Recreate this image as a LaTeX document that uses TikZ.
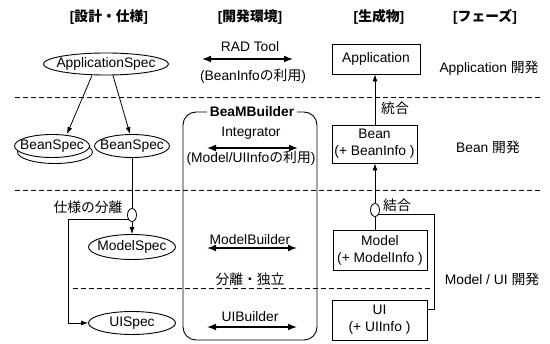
\documentclass[tikz,border=0pt]{standalone}
\usepackage{fontspec}
\setmainfont{Liberation Sans}
\newfontfamily\jpfont{Noto Sans CJK JP}
\usetikzlibrary{shapes.geometric,arrows.meta}
\newcommand\jt[1]{{\jpfont #1}}
\begin{document}
\begin{tikzpicture}[x=1pt,y=-1pt,font=\fontsize{13.8}{17}\selectfont,
  ell/.style={ellipse,draw,line width=0.9pt,fill=white,inner sep=0pt},
  jct/.style={ellipse,draw,line width=0.8pt,fill=white,minimum width=9pt,minimum height=13pt,inner sep=0pt},
  box/.style={rectangle,draw,line width=0.9pt,align=center,inner sep=0pt},
  lbl/.style={inner sep=0pt,align=center},
  hdr/.style={lbl,font=\fontsize{13.8}{17}\selectfont\bfseries},
  conn/.style={line width=0.8pt},
  arr/.style={conn,-{Latex[length=7pt,width=5pt]}},
  darr/.style={line width=1.6pt,{Latex[length=9pt,width=7pt]}-{Latex[length=9pt,width=7pt]}},
  dashline/.style={line width=0.8pt,dash pattern=on 5pt off 3pt}]
\useasboundingbox (0,0) rectangle (550,344);

% dashed phase separators
\coordinate (d1a) at (15,97);  \coordinate (d1b) at (540,97);
\coordinate (d2a) at (15,190); \coordinate (d2b) at (540,190);
\coordinate (d3a) at (73,288); \coordinate (d3b) at (430,288);
\draw[dashline] (d1a) -- (d1b);
\draw[dashline] (d2a) -- (d2b);
\draw[dashline] (d3a) -- (d3b);

% headers
\node[hdr] (h1) at (109,17) {[\jt{設計・仕様}]};
\node[hdr] (h2) at (250,17) {[\jt{開発環境}]};
\node[hdr] (h3) at (379,17) {[\jt{生成物}]};
\node[hdr] (h4) at (485,17) {[\jt{フェーズ}]};

% left column: specs
\node[ell,minimum width=125pt,minimum height=22pt] (appspec) at (106,64) {};
\node[lbl] (appspecT) at (appspec) {ApplicationSpec};
\node[ell,minimum width=75pt,minimum height=23pt] (beanLback) at (55,152) {};
\node[ell,minimum width=75pt,minimum height=23pt] (beanL) at (52,146) {};
\node[lbl] (beanLT) at (beanL) {BeanSpec};
\node[ell,minimum width=75pt,minimum height=23pt] (beanR) at (132,146) {};
\node[lbl] (beanRT) at (beanR) {BeanSpec};
\node[ell,minimum width=87pt,minimum height=25pt] (modelspec) at (132,247) {};
\node[lbl] (modelspecT) at (modelspec) {ModelSpec};
\node[ell,minimum width=87pt,minimum height=23pt] (uispec) at (132,323) {};
\node[lbl] (uispecT) at (uispec) {UISpec};
\node[jct] (jL) at (132,215) {};
\node[lbl] (splitT) at (88,207) {\jt{仕様の分離}};

\draw[arr] ([xshift=-14pt]appspec.south) -- ([xshift=15pt]beanL.north);
\draw[arr] ([xshift=7pt]appspec.south) -- ([xshift=-2pt]beanR.north);
\draw[conn] (beanR.south) -- (jL.north);
\draw[arr] (jL.south) -- (modelspec.north);
\coordinate (cL) at (68,323);
\draw[arr] (jL.south west) -| (cL) -- (uispec.west);

% middle column: development environment
\node[lbl] (radT) at (250,47) {RAD Tool};
\coordinate (rada) at (202,59); \coordinate (radb) at (293,59);
\draw[darr] (rada) -- (radb);
\node[lbl] (radI) at (253,76) {(BeanInfo\jt{の利用})};

\node[draw,line width=0.9pt,rounded corners=13pt,minimum width=134pt,minimum height=228pt,inner sep=0pt] (bmbox) at (250,226) {};
\node[lbl,fill=white,inner xsep=3pt,font=\fontsize{13.8}{17}\selectfont\bfseries] (bmbT) at (252,112) {BeaMBuilder};

\node[lbl] (intT) at (251,133) {Integrator};
\coordinate (inta) at (207,148); \coordinate (intb) at (298,148);
\draw[darr] (inta) -- (intb);
\node[lbl] (intI) at (251,158) {(Model/UIInfo\jt{の利用})};

\node[lbl] (mbT) at (250,240) {ModelBuilder};
\coordinate (mba) at (207,248); \coordinate (mbb) at (297,248);
\draw[darr] (mba) -- (mbb);
\node[lbl] (sepT) at (250,279) {\jt{分離・独立}};
\node[lbl] (ubT) at (250,317) {UIBuilder};
\coordinate (uba) at (207,327); \coordinate (ubb) at (297,327);
\draw[darr] (uba) -- (ubb);

% right column: products
\node[box,minimum width=88pt,minimum height=30pt] (app) at (376,59) {Application};
\node[box,minimum width=85pt,minimum height=38pt] (bean) at (374.5,144) {Bean\\(+ BeanInfo )};
\node[box,minimum width=94pt,minimum height=40pt] (model) at (380,250) {Model\\(+ ModelInfo )};
\node[box,minimum width=95pt,minimum height=40pt] (ui) at (379.5,320) {UI\\(+ UIInfo )};
\node[jct] (jR) at (375,210) {};

\draw[arr] (bean.north -| jR) -- (app.south -| jR);
\node[lbl] (integT) at (395,108) {\jt{統合}};
\draw[arr] (jR.north) -- (bean.south -| jR);
\draw[conn] (jR.south) -- (model.north -| jR);
\node[lbl] (combT) at (397,205) {\jt{結合}};
\coordinate (cR) at (434,309);
\draw[conn] (jR.south east) -| (cR) -- (cR -| ui.east);

% phases
\node[lbl] (p1) at (489,68) {Application \jt{開発}};
\node[lbl] (p2) at (488,147) {Bean \jt{開発}};
\node[lbl] (p3) at (492,279) {Model / UI \jt{開発}};
\end{tikzpicture}
\end{document}
